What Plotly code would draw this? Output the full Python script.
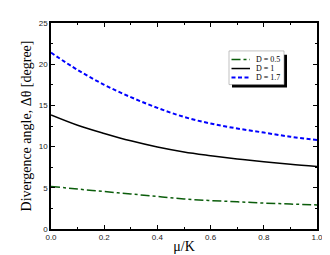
import plotly.graph_objects as go

mu = [0.0, 0.1, 0.2, 0.3, 0.4, 0.5, 0.6, 0.7, 0.8, 0.9, 1.0]
d05 = [5.17, 4.85, 4.55, 4.25, 3.95, 3.65, 3.45, 3.30, 3.15, 3.03, 2.92]
d1 = [13.85, 12.60, 11.60, 10.70, 9.95, 9.35, 8.90, 8.50, 8.15, 7.85, 7.60]
d17 = [21.4, 19.3, 17.5, 16.0, 14.7, 13.6, 12.8, 12.2, 11.7, 11.2, 10.8]
names = ["D = 0.5", "D = 1", "D = 1.7"]
colors = ["#0b5d0b", "black", "#0000ff"]
dashes = ["dashdot", "solid", "4px,2.5px"]
widths = [1.5, 1.5, 2]
series = [d05, d1, d17]

L, R, T, B = 43, 21, 11, 30
W, H = 330, 255
pw, ph = W - L - R, H - T - B


def px(xp):
    return (xp - L) / pw


def py(yp):
    return (H - B - yp) / ph


fig = go.Figure()
for nm, ys, c, d, w in zip(names, series, colors, dashes, widths):
    fig.add_trace(go.Scatter(x=mu, y=ys, mode="lines", name=nm, line_shape="spline",
                             line=dict(color=c, width=w, dash=d), showlegend=False))

# manual legend with shadow
fig.add_shape(type="rect", xref="paper", yref="paper", x0=px(224), x1=px(279), y0=py(78), y1=py(44),
              fillcolor="black", line=dict(width=0), layer="above")
fig.add_shape(type="rect", xref="paper", yref="paper", x0=px(221), x1=px(276), y0=py(75), y1=py(40),
              fillcolor="white", line=dict(width=0.6, color="#999"), layer="above")
rows = [49, 58.3, 67.7]
for nm, c, d, w, r in zip(names, colors, dashes, widths, rows):
    fig.add_shape(type="line", xref="paper", yref="paper", x0=px(223.5), x1=px(242), y0=py(r), y1=py(r),
                  line=dict(color=c, width=w, dash=d), layer="above")
    fig.add_annotation(xref="paper", yref="paper", x=px(246), y=py(r), text=nm, showarrow=False,
                       xanchor="left", yanchor="middle",
                       font=dict(family="Liberation Serif, Times New Roman", size=8, color="black"))

axis_common = dict(showline=True, linecolor="black", linewidth=1.5, mirror="ticks",
                   ticks="inside", ticklen=4, tickwidth=1, tickcolor="black",
                   showgrid=False, zeroline=False,
                   tickfont=dict(family="Liberation Sans, Arial", size=8, color="#222"),
                   minor=dict(ticks="inside", ticklen=2, tickcolor="black", showgrid=False))

fig.update_xaxes(range=[0, 1], dtick=0.2, tickformat=".1f", minor_dtick=0.1,
                 title=dict(text="μ/K", font=dict(family="Liberation Serif, Times New Roman", size=14, color="black"), standoff=0),
                 **axis_common)
fig.update_yaxes(range=[0, 25], dtick=5, minor_dtick=2.5,
                 title=dict(text="Divergence angle, Δθ [degree]", font=dict(family="Liberation Serif, Times New Roman", size=14, color="black"), standoff=4),
                 **axis_common)

fig.update_layout(width=W, height=H, margin=dict(l=L, r=R, t=T, b=B),
                  plot_bgcolor="white", paper_bgcolor="white", showlegend=False)
fig.write_html("out.html")
